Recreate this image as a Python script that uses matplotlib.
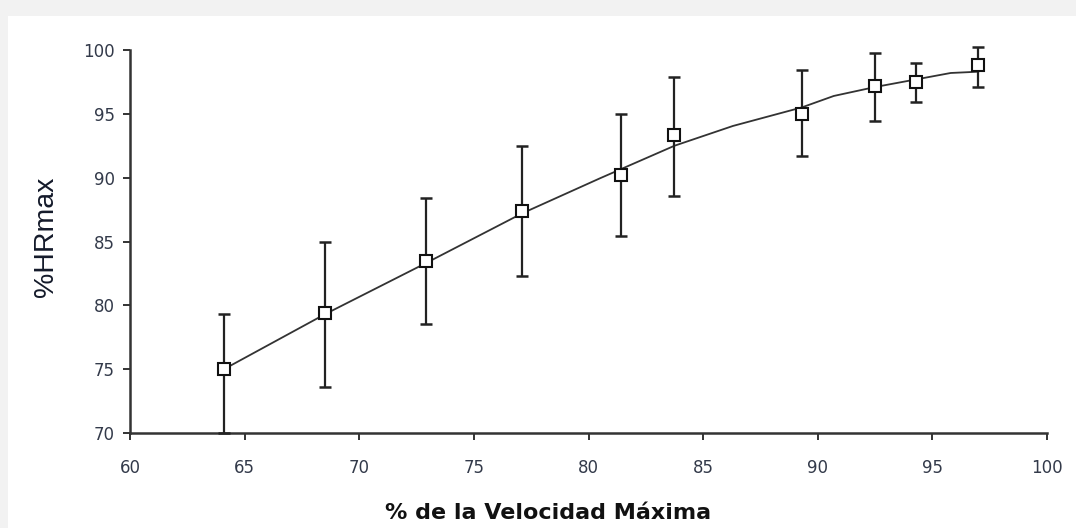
import matplotlib
matplotlib.use("Agg")
import matplotlib.pyplot as plt
from matplotlib.patches import Rectangle

# Data
pct_vmax = [64.1, 68.5, 72.9, 77.1, 81.4, 83.75, 89.3, 92.5, 94.3, 97.0]
hr_mean = [75.0, 79.4, 83.5, 87.4, 90.2, 93.35, 95.0, 97.2, 97.5, 98.8]
err_low = [5.0, 5.8, 5.0, 5.1, 4.8, 4.75, 3.3, 2.8, 1.55, 1.7]
err_high = [4.3, 5.6, 4.9, 5.1, 4.8, 4.5, 3.4, 2.6, 1.5, 1.4]

fit_x = [64.1, 68.5, 72.9, 77.1, 80.5, 83.75, 86.3, 89.3, 90.7, 92.5, 94.3, 95.8, 97.0]
fit_y = [75.0, 79.3, 83.3, 87.2, 89.95, 92.5, 94.05, 95.5, 96.4, 97.1, 97.7, 98.2, 98.3]

x_ticks = [60, 65, 70, 75, 80, 85, 90, 95, 100]
y_ticks = [70, 75, 80, 85, 90, 95, 100]

W, H = 1076, 528
fig = plt.figure(figsize=(W / 100, H / 100), dpi=100)
fig.patch.set_facecolor("#f2f2f2")
fig.add_artist(Rectangle((8 / W, 0), 1 - 8 / W, (H - 16) / H,
                         transform=fig.transFigure, facecolor="white",
                         edgecolor="none", zorder=-10))

ax = fig.add_axes([130 / W, 95 / H, (1047 - 130) / W, (433 - 50) / H])
ax.set_facecolor("none")

ax.plot(fit_x, fit_y, color="#333333", lw=1.3, zorder=2)
ax.errorbar(pct_vmax, hr_mean, yerr=[err_low, err_high], fmt="none",
            ecolor="#222222", elinewidth=1.6, capsize=4.3, capthick=1.8,
            zorder=3, clip_on=False)
ax.plot(pct_vmax, hr_mean, linestyle="none", marker="s", markersize=9,
        markerfacecolor="white", markeredgecolor="#111111",
        markeredgewidth=1.5, zorder=4, clip_on=False)

ax.set_xlim(60, 100)
ax.set_ylim(70, 100)
ax.set_xticks(x_ticks)
ax.set_yticks(y_ticks)

for s in ["top", "right"]:
    ax.spines[s].set_visible(False)
for s in ["left", "bottom"]:
    ax.spines[s].set_linewidth(1.8)
    ax.spines[s].set_color("#333333")

ax.tick_params(axis="both", direction="out", length=5, width=1.4,
               color="#333333", labelcolor="#333a4a", labelsize=12)
ax.tick_params(axis="x", pad=14)
ax.tick_params(axis="y", pad=6)

fig.text(46 / W, 1 - 237 / H, "%HRmax", rotation=90, ha="center",
         va="center", fontsize=20.5, family="Liberation Sans", color="#141a2a")
fig.text(548 / W, 1 - 513 / H, "% de la Velocidad Máxima", ha="center",
         va="center", fontsize=16, fontweight="bold", family="DejaVu Sans",
         color="#111111")

fig.savefig("out.png", dpi=100, facecolor=fig.get_facecolor())
